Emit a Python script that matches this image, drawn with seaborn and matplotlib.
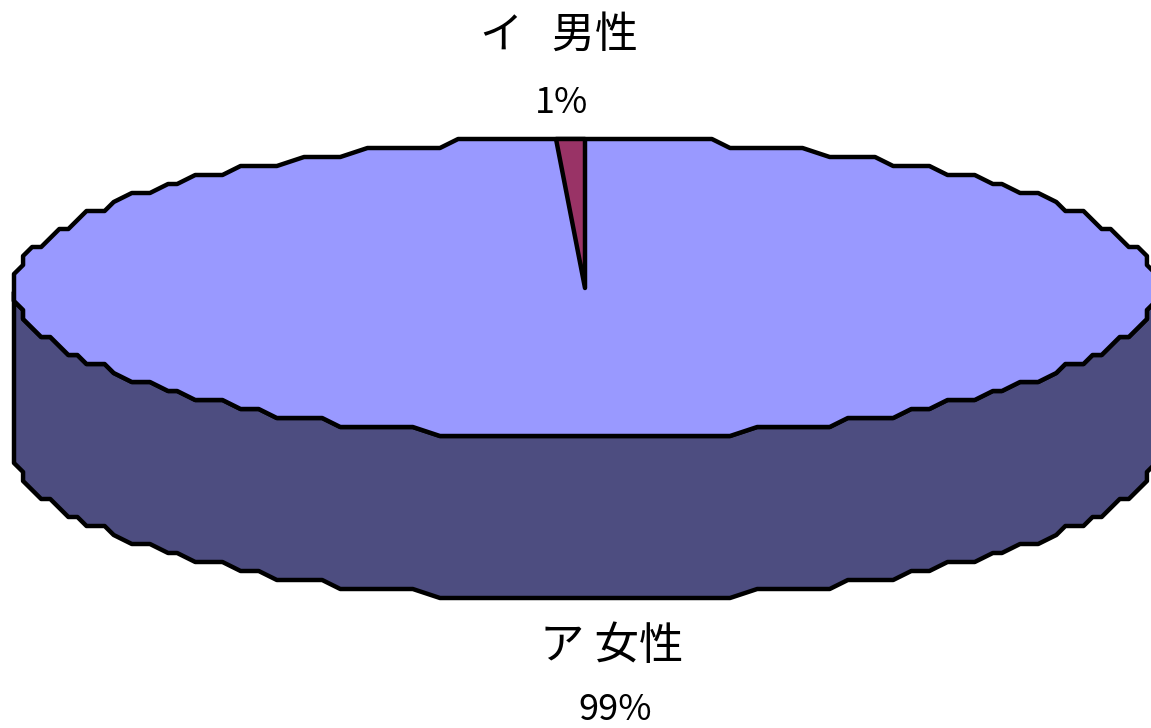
# 3D style pie: women vs men share
import numpy as np
import matplotlib
matplotlib.use('Agg')
import matplotlib.pyplot as plt
import seaborn as sns

categories = ["ア 女性", "イ   男性"]
shares = [99.2, 0.8]
share_labels = ["99%", "1%"]

TOP_COLOR = "#9999FF"
SIDE_COLOR = "#4D4D80"
WEDGE_COLOR = "#993366"

# pie geometry in image pixels
CX, CY = 585, 288
RX, RY = 571, 149
DEPTH = 162
GRID_X = RX / 63   # outline in the reference is snapped to a coarse grid
GRID_Y = 9
ANGLE_STEP = 2.5


def coarse_rim(start, stop):
    """Rim points between two angles in degrees, snapped to the coarse grid."""
    n = int(round((stop - start) / ANGLE_STEP)) + 1
    t = np.radians(np.linspace(start, stop, n))
    x = CX + RX * np.cos(t)
    y = CY - RY * np.sin(t)
    top = CY - RY
    return np.round((x - CX) / GRID_X) * GRID_X + CX, np.round((y - top) / GRID_Y) * GRID_Y + top


sns.set_theme(style="white")
plt.rcParams['font.family'] = ['Noto Sans CJK JP', 'DejaVu Sans']

fig, ax = plt.subplots(figsize=(11.51, 7.28), dpi=100)
ax.set_position([0, 0, 1, 1])
ax.set_xlim(0, 1151)
ax.set_ylim(728, 0)
ax.axis("off")

edge = dict(edgecolor="black", linewidth=3.2, joinstyle="round")

# side wall: front half of the rim, pushed down by the depth
fx, fy = coarse_rim(180, 360)
ax.fill(np.r_[fx, fx[::-1]], np.r_[fy, fy[::-1] + DEPTH],
        facecolor=SIDE_COLOR, **edge)

# top face
tx, ty = coarse_rim(0, 360)
ax.fill(tx, ty, facecolor=TOP_COLOR, **edge)

# small wedge starts at 12 o'clock and runs counter-clockwise
sweep = shares[1] / sum(shares) * 360
t0, t1 = np.radians([90, 90 + sweep])
ax.fill([CX, CX + RX * np.cos(t0), CX + RX * np.cos(t1)],
        [CY, CY - RY, CY - RY], facecolor=WEDGE_COLOR, **edge)

# labels
ax.text(559, 36, categories[1], fontsize=31, ha="center", va="center", color="black")
ax.text(562, 103, share_labels[1], fontsize=26, ha="center", va="center", color="black")
ax.text(612, 646, categories[0], fontsize=32, ha="center", va="center", color="black")
ax.text(615, 710, share_labels[0], fontsize=26, ha="center", va="center", color="black")

fig.savefig("out.png", dpi=100)
